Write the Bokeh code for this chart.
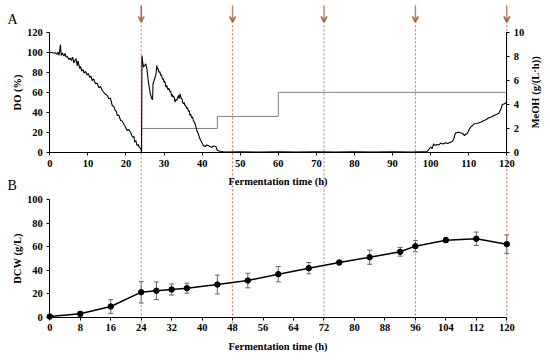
import math
from bokeh.plotting import figure
from bokeh.models import (Range1d, LinearAxis, FixedTicker, Whisker, ColumnDataSource,
                          Arrow, VeeHead, TeeHead, Label)
from bokeh.embed import file_html
from bokeh.resources import INLINE

# ---------------- data ----------------
# DO trace (%) in four stretches
do_t1 = [0, 0.5, 1.0, 1.5, 1.9, 2.2, 2.4, 2.6, 2.8, 3.0,
         3.3, 3.7, 4.0, 4.3, 4.6, 5.0, 5.4, 5.7, 6.0, 6.3,
         6.6, 6.9, 7.2, 7.4, 7.6, 7.9, 8.1, 8.4, 8.7, 9.0,
         9.4, 9.8, 10.1, 10.5, 10.8, 11.1, 11.5, 12.0, 12.4, 12.9,
         13.3, 13.8, 14.2, 14.6, 15.0, 15.5, 15.9, 16.4, 16.8, 17.2,
         17.5, 17.7, 18.1, 18.6, 19.0, 19.4, 19.8, 20.3, 20.7, 21.2,
         21.5, 21.8, 22.1, 22.3, 22.6, 22.9, 23.2, 23.5, 23.8, 24.0]
do_v1 = [100, 100, 99.5, 99.7, 98, 100.5, 97, 102, 108, 97,
         99.5, 96.5, 99, 95.5, 96, 93, 94.5, 92, 95.3, 89.5,
         92, 94, 86.5, 91.5, 88, 84, 86, 81.5, 83, 79.5,
         81, 77.5, 79, 75, 76.5, 72, 73.5, 68.7, 69.5, 64.7,
         66, 62, 60, 58, 57.5, 53.7, 54.5, 47, 46, 42,
         41, 37, 37.5, 32, 31.5, 28.7, 26, 22, 23, 20.3,
         17, 15.3, 16, 10.3, 12, 7, 8, 5.3, 4, 2.7]
do_t2 = [24.1, 24.2, 24.4, 24.6, 24.9, 25.2, 25.5, 25.9, 26.4, 26.8,
         27.0, 27.1, 27.4, 27.9, 28.1, 28.3, 28.4, 28.7, 28.9, 29.1,
         29.3, 29.6, 29.8, 30.0, 30.2, 30.5, 30.7, 31.0, 31.3, 31.6,
         31.8, 32.0, 32.2, 32.4, 32.6, 32.9, 33.1, 33.3, 33.6, 33.8,
         34.0, 34.2, 34.5, 34.7, 34.9, 35.1, 35.3, 35.5, 35.8, 36.0,
         36.2, 36.4, 36.6, 36.8, 37.0, 37.2, 37.5, 37.7, 38.0, 38.3,
         38.6, 39.0, 39.5, 39.9, 40.3, 40.8, 41.2, 41.6, 42.0, 42.5,
         43.0, 43.6, 44.0, 44.7]
do_v2 = [0, 97, 90, 85.3, 87, 88.7, 83.7, 70.3, 58.7, 53.7,
         53, 68.7, 72, 78.7, 87, 83, 84, 80, 81, 77,
         78, 73, 74, 70, 71.5, 65.3, 67, 63, 64, 60.3,
         61, 56, 58, 55.3, 56, 50.3, 53, 52, 55, 57,
         54, 58.7, 54, 53.7, 50, 48.7, 50, 47, 46, 43.7,
         45, 41, 42, 37, 38.5, 35, 35.5, 32, 30, 27,
         22, 18.7, 13, 10.3, 7, 6, 7.5, 7, 6, 5.3,
         6.5, 6, 2, 1.3]
do_t3 = [46, 50, 55, 60, 65, 70, 75, 80, 85, 90, 95, 99.1]
do_v3 = [0.5, 0.8, 0.4, 0.6, 0.5, 0.7, 0.4, 0.6, 0.5, 0.7, 0.5, 1]
do_t4 = [100.0, 100.4, 100.8, 101.2, 101.7, 102.2, 102.6, 103.3, 103.9, 104.5,
         105.2, 105.7, 106.1, 106.5, 107.0, 107.4, 108.3, 108.9, 109.3, 109.6,
         110.0, 110.5, 111.0, 111.4, 112.0, 112.7, 113.3, 114.0, 114.6, 115.3,
         116.0, 116.6, 117.3, 117.9, 118.5, 118.8, 119.2, 119.6, 120.0]
do_v4 = [5.3, 4, 8.7, 7, 8, 7.5, 9.3, 8.5, 9.7, 9,
         10.3, 11, 13.7, 19.3, 20, 20.3, 19.3, 17, 18.5, 18.7,
         22, 25.3, 27, 28.7, 29, 29.7, 30.5, 32, 33, 34.7,
         35.5, 37, 38, 39.3, 43.7, 48, 48.5, 49.3, 50.3]
do_time = do_t1 + do_t2 + do_t3 + do_t4
do_value = do_v1 + do_v2 + do_v3 + do_v4

# methanol feed rate (g/(L·h)), stepwise
meoh_time = [24, 44, 60, 120]
meoh_rate = [2, 3, 5, 5]

# dry cell weight (g/L)
dcw_time = [0, 8, 16, 24, 28, 32, 36, 44, 52, 60, 68, 76, 84, 92, 96, 104, 112, 120]
dcw_mean = [0.8, 3.1, 9.3, 21.5, 22.7, 23.8, 24.9, 28.0, 31.4, 36.8, 41.9, 46.7, 51.2, 55.8,
            60.6, 65.7, 66.9, 62.3]
dcw_sd = [0.5, 2.0, 5.8, 9.2, 7.5, 4.7, 4.2, 8.0, 6.2, 6.5, 4.8, 1.8, 6.0, 3.7, 4.7, 1.8, 5.7, 7.8]

feed_times = [24, 48, 72, 96, 120]

ticks_a = [0, 10, 20, 30, 40, 50, 60, 70, 80, 90, 100, 110, 120]
ticks_b = [0, 8, 16, 24, 32, 40, 48, 56, 64, 72, 80, 88, 96, 104, 112, 120]
do_ticks = [0, 20, 40, 60, 80, 100, 120]
meoh_ticks = [0, 2, 4, 6, 8, 10]
dcw_ticks = [0, 20, 40, 60, 80, 100]

# ---------------- figure ----------------
FONT = "Liberation Serif"

p = figure(width=542, height=352, output_backend="svg", toolbar_location=None,
           x_axis_type=None, y_axis_type=None,
           x_range=Range1d(-12.946, 129.375), y_range=Range1d(-29.74, 269.33),
           min_border_left=0, min_border_right=0, min_border_top=0, min_border_bottom=0,
           min_border=0)
p.extra_y_ranges = {"do": Range1d(-200, 152), "meoh": Range1d(-16.625, 12.635)}
p.outline_line_color = None
p.xgrid.visible = False
p.ygrid.visible = False
p.background_fill_color = "white"
p.border_fill_color = "white"


def style_axis(ax, label_standoff=6):
    ax.major_label_text_font = FONT
    ax.major_label_text_font_style = "bold"
    ax.major_label_text_font_size = "10.5px"
    ax.major_label_text_color = "black"
    ax.axis_label_text_font = FONT
    ax.axis_label_text_font_style = "bold"
    ax.axis_label_text_font_size = "10.5px"
    ax.axis_label_text_color = "black"
    ax.minor_tick_line_color = None
    ax.major_tick_in = 0
    ax.major_tick_out = 3
    ax.major_label_standoff = 4
    ax.axis_label_standoff = label_standoff
    ax.axis_line_color = "black"
    ax.major_tick_line_color = "black"


ax_do = LinearAxis(y_range_name="do", fixed_location=0, bounds=(0, 120),
                   ticker=FixedTicker(ticks=do_ticks), axis_label="DO (%)")
ax_meoh = LinearAxis(y_range_name="meoh", fixed_location=120, bounds=(0, 10),
                     ticker=FixedTicker(ticks=meoh_ticks))
ax_xa = LinearAxis(y_range_name="do", fixed_location=0, bounds=(0, 120),
                   ticker=FixedTicker(ticks=ticks_a), axis_label="Fermentation time (h)")
ax_dcw = LinearAxis(fixed_location=0, bounds=(0, 100),
                    ticker=FixedTicker(ticks=dcw_ticks), axis_label="DCW (g/L)")
ax_xb = LinearAxis(fixed_location=0, bounds=(0, 120),
                   ticker=FixedTicker(ticks=ticks_b), axis_label="Fermentation time (h)")
style_axis(ax_do, 1)
style_axis(ax_dcw, 1)
style_axis(ax_meoh)
style_axis(ax_xa)
style_axis(ax_xb)

p.add_layout(ax_do, "left")
p.add_layout(ax_dcw, "left")
p.add_layout(ax_meoh, "right")
p.add_layout(ax_xa, "below")
p.add_layout(ax_xb, "below")

# right axis title, reading bottom-to-top
p.add_layout(Label(x=127.6, y=5, y_range_name="meoh", text="MeOH (g/(L\u00b7h))",
                   angle=math.pi / 2, text_align="center", text_baseline="middle",
                   text_font=FONT, text_font_style="bold", text_font_size="10.5px",
                   text_color="black"))

# dashed feed lines
p.segment(x0=feed_times, y0=[-5] * len(feed_times), x1=feed_times, y1=[250] * len(feed_times),
          line_color="#d8704a", line_width=1, line_dash="2 2")

# arrows on top
for i, t in enumerate(feed_times):
    shaft = "#e8405a" if i == 0 else "#c08a66"
    head = "#a8844a" if i == 0 else "#a87450"
    p.add_layout(Arrow(x_start=t, y_start=147, x_end=t, y_end=130, y_range_name="do",
                       line_color=shaft, line_width=1.5,
                       end=VeeHead(size=6, line_color=head, line_width=1.5)))

# panel A
p.step(meoh_time, meoh_rate, mode="after", y_range_name="meoh", line_color="#808080", line_width=1)
p.line(do_time, do_value, y_range_name="do", line_color="black", line_width=1.1)

# panel B
src = ColumnDataSource(dict(t=dcw_time, m=dcw_mean,
                            lo=[m - s for m, s in zip(dcw_mean, dcw_sd)],
                            hi=[m + s for m, s in zip(dcw_mean, dcw_sd)]))
p.add_layout(Whisker(source=src, base="t", upper="hi", lower="lo", dimension="height",
                     line_color="#666666", line_width=1,
                     upper_head=TeeHead(size=5, line_color="#666666", line_width=1),
                     lower_head=TeeHead(size=5, line_color="#666666", line_width=1)))
p.line("t", "m", source=src, line_color="black", line_width=1.5)
p.scatter("t", "m", source=src, size=5.5, fill_color="black", line_color="black")

# panel letters
p.add_layout(Label(x=-11.1, y=126, y_range_name="do", text="A", text_font=FONT,
                   text_font_size="14px", text_color="black"))
p.add_layout(Label(x=-11.1, y=106.2, text="B", text_font=FONT,
                   text_font_size="14px", text_color="black"))

open("out.html", "w").write(file_html(p, INLINE))
